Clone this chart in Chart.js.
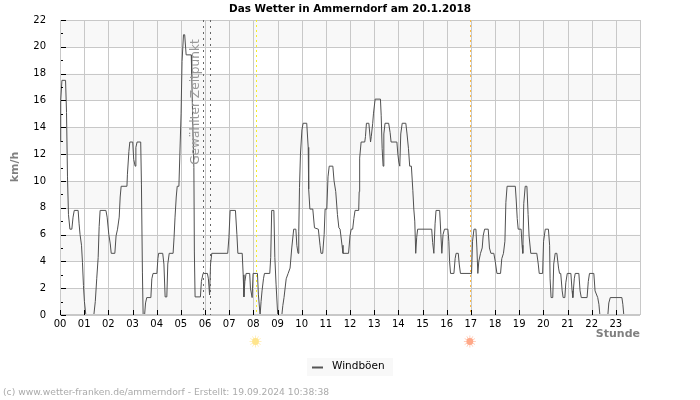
<!DOCTYPE html>
<html>
<head>
<meta charset="utf-8">
<title>Das Wetter in Ammerndorf</title>
<script src="https://cdn.jsdelivr.net/npm/chart.js@4"></script>
<style>
    body { margin: 0; background: #fff; }
    #wetterChart { display: block; }
</style>
</head>
<body>
<canvas id="wetterChart" width="700" height="400"></canvas>
<script>
// Uhrzeit in Stunden
const hours = [
    0.03, 0.03, 0.08, 0.23, 0.27, 0.31, 0.35, 0.41, 0.49, 0.54, 0.59, 0.75, 0.79, 0.83, 0.89, 0.93, 0.97, 1.01, 1.07, 1.40,
    1.46, 1.52, 1.58, 1.62, 1.66, 1.90, 1.95, 2.02, 2.08, 2.12, 2.27, 2.32, 2.38, 2.45, 2.49, 2.53, 2.77, 2.79, 2.85, 2.89,
    3.01, 3.05, 3.11, 3.14, 3.19, 3.34, 3.37, 3.41, 3.44, 3.50, 3.54, 3.59, 3.76, 3.80, 3.85, 4.01, 4.05, 4.08, 4.25, 4.30,
    4.35, 4.42, 4.46, 4.52, 4.68, 4.72, 4.76, 4.81, 4.85, 4.92, 4.96, 5.01, 5.05, 5.11, 5.16, 5.22, 5.43, 5.45, 5.50, 5.54,
    5.56, 5.59, 5.81, 5.85, 5.92, 6.10, 6.14, 6.19, 6.23, 6.28, 6.94, 6.99, 7.04, 7.26, 7.32, 7.36, 7.54, 7.58, 7.61, 7.65,
    7.70, 7.85, 7.88, 7.95, 7.99, 8.17, 8.21, 8.28, 8.32, 8.36, 8.42, 8.46, 8.68, 8.72, 8.76, 8.85, 8.89, 8.94, 9.01, 9.18,
    9.22, 9.27, 9.36, 9.44, 9.52, 9.59, 9.67, 9.76, 9.80, 9.85, 9.88, 9.91, 9.95, 10.01, 10.06, 10.21, 10.27, 10.29, 10.34, 10.46,
    10.53, 10.69, 10.76, 10.80, 10.87, 10.93, 10.97, 11.04, 11.09, 11.14, 11.29, 11.34, 11.41, 11.48, 11.54, 11.59, 11.67, 11.71, 11.94, 12.00,
    12.05, 12.11, 12.16, 12.21, 12.36, 12.38, 12.40, 12.46, 12.61, 12.64, 12.68, 12.78, 12.85, 12.88, 12.94, 12.97, 13.04, 13.26, 13.29, 13.33,
    13.37, 13.40, 13.45, 13.60, 13.66, 13.70, 13.94, 13.98, 14.02, 14.06, 14.10, 14.16, 14.31, 14.36, 14.42, 14.47, 14.54, 14.60, 14.64, 14.68,
    14.72, 14.76, 14.80, 15.38, 15.42, 15.47, 15.52, 15.56, 15.71, 15.76, 15.80, 15.85, 15.91, 16.05, 16.09, 16.12, 16.16, 16.30, 16.35, 16.39,
    16.48, 16.52, 16.57, 17.03, 17.07, 17.13, 17.21, 17.25, 17.29, 17.33, 17.40, 17.47, 17.51, 17.57, 17.72, 17.77, 17.83, 17.95, 18.01, 18.08,
    18.23, 18.28, 18.35, 18.41, 18.45, 18.50, 18.84, 18.88, 18.92, 18.96, 19.08, 19.12, 19.15, 19.19, 19.25, 19.32, 19.37, 19.41, 19.48, 19.73,
    19.79, 19.83, 19.97, 20.01, 20.08, 20.21, 20.26, 20.28, 20.32, 20.39, 20.43, 20.49, 20.56, 20.63, 20.67, 20.72, 20.78, 20.82, 20.89, 20.93,
    20.99, 21.14, 21.19, 21.22, 21.28, 21.32, 21.47, 21.52, 21.57, 21.81, 21.86, 21.91, 22.09, 22.14, 22.25, 22.30, 22.34, 22.67, 22.71, 22.77,
    23.25, 23.29, 23.33
];

// Windböen in km/h
const gusts = [
    12.9, 16.0, 17.5, 17.5, 15.1, 10.3, 7.5, 6.4, 6.4, 7.3, 7.8, 7.8, 6.8, 6.0, 5.2, 3.9, 2.2, 1.0, 0, 0,
    1.0, 2.7, 4.3, 6.6, 7.8, 7.8, 7.3, 6.0, 5.3, 4.6, 4.6, 5.9, 6.4, 7.3, 8.8, 9.6, 9.6, 10.5, 12.2, 12.9,
    12.9, 11.6, 11.1, 12.5, 12.9, 12.9, 9.7, 3.2, 0, 0, 0.9, 1.3, 1.3, 2.7, 3.1, 3.1, 4.2, 4.6, 4.6, 3.8,
    1.35, 1.35, 3.8, 4.6, 4.6, 5.8, 7.3, 8.8, 9.6, 9.6, 12.0, 15.0, 18.9, 20.9, 20.9, 19.4, 19.4, 18.0, 13.8, 11.0,
    4.7, 1.35, 1.35, 2.5, 3.1, 3.1, 2.7, 1.5, 3.8, 4.6, 4.6, 5.8, 7.8, 7.8, 6.0, 4.6, 4.6, 3.0, 1.35, 2.5,
    3.1, 3.1, 2.0, 1.3, 3.1, 3.1, 1.5, 0, 1.0, 1.8, 2.7, 3.1, 3.1, 4.3, 7.8, 7.8, 4.3, 2.3, 0, 0,
    0.7, 1.3, 2.7, 3.1, 3.5, 5.0, 6.4, 6.4, 5.2, 4.6, 6.2, 9.5, 12.0, 13.8, 14.3, 14.3, 12.5, 9.4, 7.9, 7.9,
    6.5, 6.4, 5.2, 4.6, 4.6, 6.0, 7.9, 7.9, 10.3, 11.1, 11.1, 10.0, 9.2, 7.5, 6.5, 6.4, 5.2, 4.6, 4.6, 5.9,
    6.4, 6.4, 7.2, 7.8, 7.8, 9.2, 11.7, 12.9, 12.9, 13.3, 14.3, 14.3, 12.9, 13.3, 14.3, 15.0, 16.1, 16.1, 14.9, 12.4,
    11.1, 13.5, 14.3, 14.3, 13.6, 12.9, 12.9, 12.0, 11.4, 11.1, 13.5, 14.3, 14.3, 13.5, 12.4, 11.1, 11.1, 9.3, 7.9, 7.0,
    4.6, 5.8, 6.4, 6.4, 5.4, 4.6, 6.8, 7.8, 7.8, 6.0, 4.6, 6.0, 6.4, 6.4, 5.5, 4.0, 3.1, 3.1, 4.2, 4.6,
    4.6, 3.8, 3.1, 3.1, 5.5, 6.4, 6.4, 5.0, 3.1, 4.0, 4.6, 5.0, 5.9, 6.4, 6.4, 5.0, 4.6, 4.6, 4.0, 3.1,
    3.1, 4.2, 4.6, 5.5, 8.4, 9.6, 9.6, 8.5, 7.2, 6.4, 6.4, 5.2, 4.6, 8.3, 9.6, 9.6, 7.5, 5.9, 4.6, 4.6,
    3.8, 3.1, 3.1, 5.5, 6.4, 6.4, 5.2, 2.7, 1.3, 1.3, 3.8, 4.6, 4.6, 3.5, 3.1, 3.1, 1.8, 1.3, 1.3, 2.4,
    3.1, 3.1, 1.8, 1.3, 2.7, 3.1, 3.1, 1.8, 1.3, 1.3, 2.5, 3.1, 3.1, 1.8, 1.3, 0.8, 0, 0, 0.9, 1.3,
    1.3, 0.8, 0
];

const selectedTime = [5.93, 6.22];
const sunrise = 8.11;
const sunset = 16.98;

// Hintergrund, Markierungen und Texte um das Diagramm
const decoration = {
    id: 'decoration',
    beforeDatasetsDraw(chart) {
        const { ctx, chartArea: a, scales: { x, y } } = chart;
        ctx.save();
        ctx.fillStyle = '#f8f8f8';
        for (let v = 0; v < 22; v += 4) {
            ctx.fillRect(a.left, y.getPixelForValue(v + 2), a.width, y.getPixelForValue(v) - y.getPixelForValue(v + 2));
        }
        ctx.strokeStyle = '#c8c8c8';
        ctx.lineWidth = 1;
        ctx.beginPath();
        for (let h = 0; h <= 24; h++) {
            const px = Math.round(x.getPixelForValue(h)) + 0.5;
            ctx.moveTo(px, a.top);
            ctx.lineTo(px, a.bottom);
        }
        for (let v = 0; v <= 22; v += 2) {
            const py = Math.round(y.getPixelForValue(v)) + 0.5;
            ctx.moveTo(a.left, py);
            ctx.lineTo(a.right, py);
        }
        ctx.stroke();
        ctx.restore();
    },
    afterDatasetsDraw(chart) {
        const { ctx, chartArea: a, scales: { x, y } } = chart;
        ctx.save();
        ctx.lineWidth = 1;

        // Grundlinie über die Kurve legen, damit die Null nicht dunkel wird
        ctx.strokeStyle = '#c8c8c8';
        ctx.beginPath();
        ctx.moveTo(a.left, Math.round(a.bottom) + 0.5);
        ctx.lineTo(a.right, Math.round(a.bottom) + 0.5);
        ctx.moveTo(a.left, Math.round(a.bottom) - 0.5);
        ctx.lineTo(a.right, Math.round(a.bottom) - 0.5);
        ctx.stroke();

        // gestrichelte Zeitlinien
        const vline = (h, color, dash) => {
            const px = Math.round(x.getPixelForValue(h)) + 0.5;
            ctx.setLineDash(dash);
            ctx.strokeStyle = color;
            ctx.beginPath();
            ctx.moveTo(px, a.top);
            ctx.lineTo(px, a.bottom);
            ctx.stroke();
        };
        selectedTime.forEach(h => vline(h, '#666666', [2, 4]));
        vline(sunrise, '#f5ee2a', [2, 3]);
        vline(sunset, '#ffb93c', [2, 3]);
        ctx.setLineDash([]);

        // Skalenstriche innen
        ctx.strokeStyle = '#000';
        ctx.beginPath();
        for (let v = 0; v <= 22; v++) {
            const py = Math.round(y.getPixelForValue(v)) + 0.5;
            ctx.moveTo(a.left + 1, py);
            ctx.lineTo(a.left + (v % 2 === 0 ? 6 : 3), py);
        }
        for (let h = 0; h < 24; h++) {
            const px = Math.round(x.getPixelForValue(h)) + 0.5;
            ctx.moveTo(px, a.bottom);
            ctx.lineTo(px, a.bottom - 5);
        }
        ctx.stroke();

        // Sonnen-Symbole
        const sun = (h, color, rays) => {
            const cx = x.getPixelForValue(h) - 0.5, cy = 341.5;
            ctx.fillStyle = color;
            ctx.strokeStyle = rays;
            ctx.beginPath();
            for (let i = 0; i < 12; i++) {
                const w = i * Math.PI / 6;
                ctx.moveTo(cx, cy);
                ctx.lineTo(cx + Math.cos(w) * 6, cy + Math.sin(w) * 6);
            }
            ctx.stroke();
            ctx.beginPath();
            ctx.arc(cx, cy, 3.4, 0, Math.PI * 2);
            ctx.fill();
        };
        sun(sunrise, '#ffe58c', '#ffefc0');
        sun(sunset, '#ffa888', '#ffcfbc');

        ctx.textBaseline = 'middle';

        // Titel
        ctx.fillStyle = '#000';
        ctx.textAlign = 'center';
        ctx.font = 'bold 10.45px "DejaVu Sans"';
        ctx.fillText('Das Wetter in Ammerndorf am 20.1.2018', 350, 9);

        // Achsentitel
        ctx.font = 'bold 11px "DejaVu Sans"';
        ctx.fillStyle = '#808080';
        ctx.textAlign = 'right';
        ctx.fillText('Stunde', 640, 334);
        ctx.save();
        ctx.translate(15, 167);
        ctx.rotate(-Math.PI / 2);
        ctx.textAlign = 'center';
        ctx.fillText('km/h', 0, 0);
        ctx.restore();

        // Beschriftung der gewählten Zeit
        ctx.save();
        ctx.translate(196, 102);
        ctx.rotate(-Math.PI / 2);
        ctx.textAlign = 'center';
        ctx.fillStyle = '#999999';
        ctx.font = '12.2px "DejaVu Sans"';
        ctx.fillText('Gewählter Zeitpunkt', 0, 0);
        ctx.restore();

        // Legende
        ctx.fillStyle = '#f8f8f8';
        ctx.fillRect(307, 358, 86, 18);
        ctx.strokeStyle = '#555555';
        ctx.lineWidth = 2;
        ctx.beginPath();
        ctx.moveTo(312, 367.5);
        ctx.lineTo(323, 367.5);
        ctx.stroke();
        ctx.fillStyle = '#000';
        ctx.textAlign = 'left';
        ctx.font = '10.5px "DejaVu Sans"';
        ctx.fillText('Windböen', 332, 366);

        // Fußzeile
        ctx.fillStyle = '#aaaaaa';
        ctx.font = '9.2px "DejaVu Sans"';
        ctx.fillText('(c) www.wetter-franken.de/ammerndorf - Erstellt: 19.09.2024 10:38:38', 3, 393);
        ctx.restore();
    }
};

new Chart(document.getElementById('wetterChart'), {
    type: 'line',
    data: {
        datasets: [{
            label: 'Windböen',
            data: hours.map((h, i) => ({ x: h, y: gusts[i] })),
            borderColor: '#505050',
            borderWidth: 1,
            pointRadius: 0,
            tension: 0,
            fill: false,
            clip: 0
        }]
    },
    options: {
        responsive: false,
        animation: false,
        devicePixelRatio: 1,
        layout: { padding: { top: 20, right: 60, left: 0, bottom: 0 } },
        plugins: { legend: { display: false }, title: { display: false }, tooltip: { enabled: false } },
        scales: {
            x: {
                type: 'linear',
                min: 0,
                max: 24,
                afterFit: scale => { scale.height = 85; },
                grid: { display: false },
                border: { display: false },
                ticks: {
                    stepSize: 1,
                    autoSkip: false,
                    maxRotation: 0,
                    padding: -5,
                    color: '#000',
                    font: { family: 'DejaVu Sans', size: 10 },
                    callback: v => (v < 24 ? String(v).padStart(2, '0') : '')
                }
            },
            y: {
                min: 0,
                max: 22,
                afterFit: scale => { scale.width = 60; },
                grid: { display: false },
                border: { display: false },
                ticks: {
                    stepSize: 2,
                    padding: 6,
                    color: '#000',
                    font: { family: 'DejaVu Sans', size: 10 }
                }
            }
        }
    },
    plugins: [decoration]
});
</script>
</body>
</html>
